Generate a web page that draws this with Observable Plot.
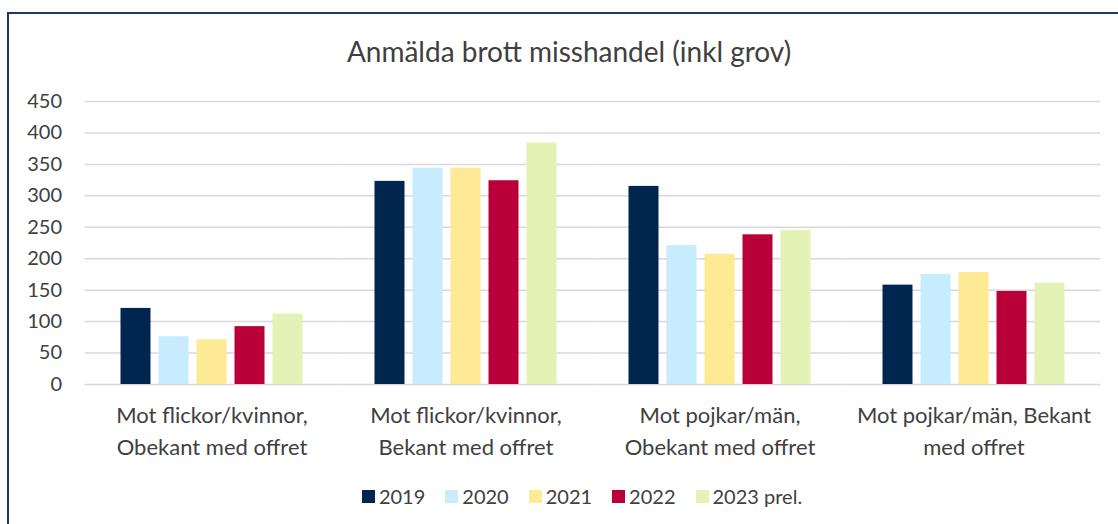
<!DOCTYPE html>
<html>
<head>
<meta charset="utf-8">
<script src="https://cdn.jsdelivr.net/npm/d3@7"></script>
<script src="https://cdn.jsdelivr.net/npm/@observablehq/plot@0.6"></script>
<style>
  html, body { margin: 0; padding: 0; background: #fff; overflow: hidden; width: 1118px; height: 524px; }
  body { font-family: Lato, "Open Sans", sans-serif; color: #404040; }
  #frame { position: absolute; left: 7px; top: 12px; width: 1200px; height: 600px; border: 2px solid #1f3864; box-sizing: border-box; }
  #title { position: absolute; left: 0; width: 1138px; top: 34px; text-align: center; font-size: 28px; color: #404040; }
  #chart { position: absolute; left: 0; top: 80px; }
  #legend { position: absolute; left: 0; width: 1184px; top: 484px; display: flex; justify-content: center; font-size: 20px; color: #404040; }
  .item { display: flex; align-items: center; margin-right: 20px; }
  .sw { width: 13px; height: 13px; margin-right: 4px; }
</style>
</head>
<body>
<div id="frame"></div>
<div id="title">Anmälda brott misshandel (inkl grov)</div>
<div id="chart"></div>
<div id="legend"></div>
<script>
const categories = [
  "Mot flickor/kvinnor,\nObekant med offret",
  "Mot flickor/kvinnor,\nBekant med offret",
  "Mot pojkar/män,\nObekant med offret",
  "Mot pojkar/män, Bekant\nmed offret"
];
const years = ["2019", "2020", "2021", "2022", "2023 prel."];
const colors = ["#00264f", "#c6ecfe", "#feea94", "#ba0039", "#e4f2b5"];
const v2019 = [121, 323, 315, 158];
const v2020 = [76, 344, 221, 175];
const v2021 = [71, 344, 207, 178];
const v2022 = [92, 324, 238, 148];
const v2023 = [112, 384, 245, 161];
const yTicks = [0, 50, 100, 150, 200, 250, 300, 350, 400, 450];

const series = [v2019, v2020, v2021, v2022, v2023];
const data = [];
categories.forEach((c, i) => {
  years.forEach((y, j) => data.push({category: c, year: y, value: series[j][i]}));
});

const half = 33.5; // half of the gap between groups
const chart = Plot.plot({
  width: 1118,
  height: 384,
  marginLeft: 84 + half,
  marginRight: 17 + half,
  marginTop: 21,
  marginBottom: 80,
  style: {fontFamily: "Lato, 'Open Sans', sans-serif", color: "#404040", background: "transparent", overflow: "visible"},
  fx: {domain: categories, paddingInner: 0.264, paddingOuter: 0, label: null},
  x: {domain: years, paddingInner: 0.2, paddingOuter: 0, axis: null},
  y: {domain: [0, 450], ticks: yTicks, label: null},
  color: {domain: years, range: colors},
  marks: [
    Plot.ruleY(yTicks, {stroke: "#d9d9d9", strokeWidth: 1.5, insetLeft: -half, insetRight: -half}),
    Plot.axisY(yTicks, {tickSize: 0, tickPadding: 23 + half, fontSize: 20, label: null}),
    Plot.barY(data, {fx: "category", x: "year", y: "value", fill: "year"}),
    Plot.axisFx({anchor: "bottom", tickSize: 0, tickPadding: 16, fontSize: 22, lineHeight: 1.45, label: null})
  ]
});
document.getElementById("chart").appendChild(chart);

const legend = d3.select("#legend");
years.forEach((y, i) => {
  const it = legend.append("div").attr("class", "item");
  it.append("div").attr("class", "sw").style("background", colors[i]);
  it.append("span").text(y);
});
</script>
</body>
</html>
